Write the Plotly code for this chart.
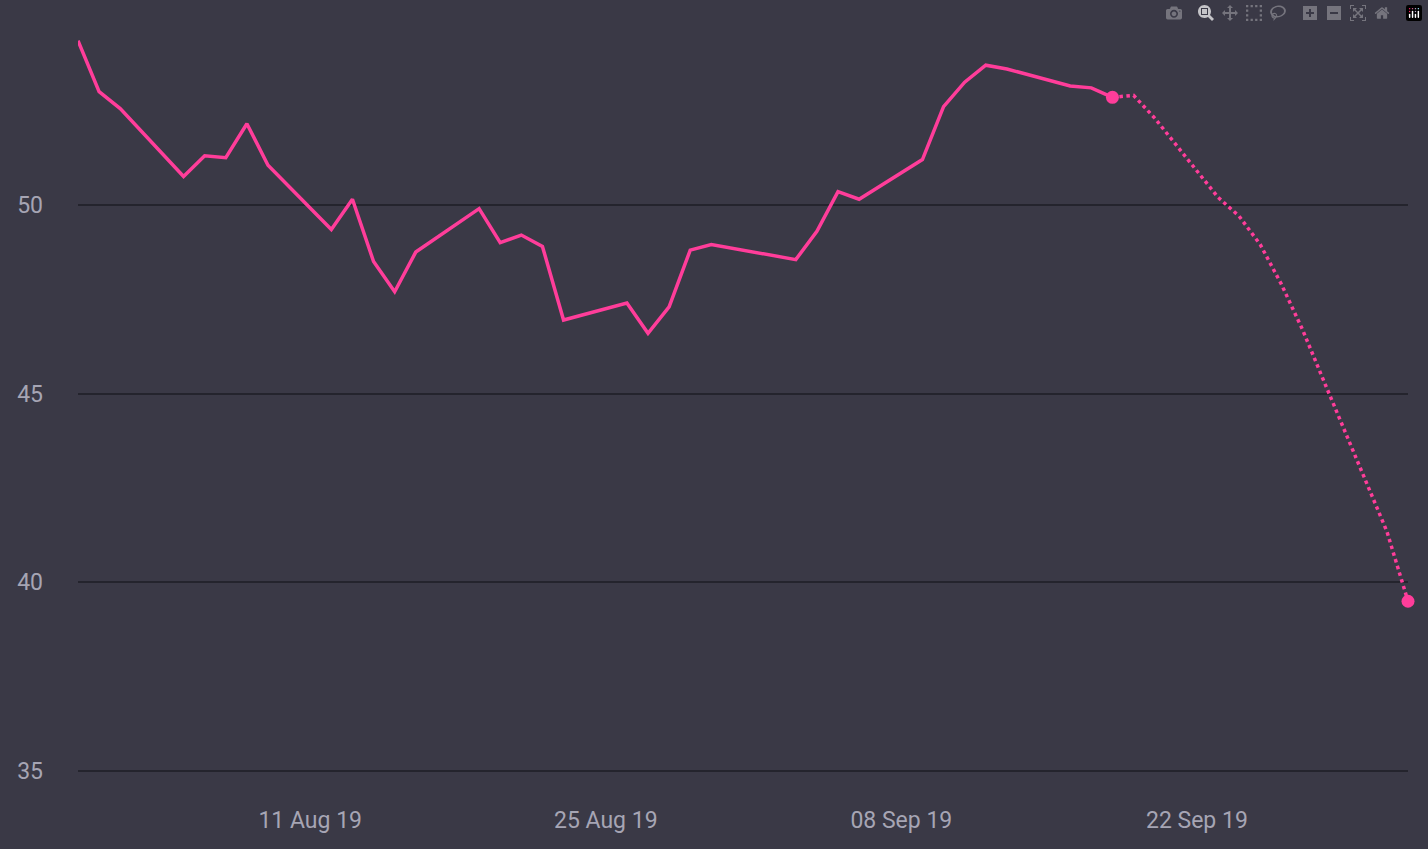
import plotly.graph_objects as go

dates_actual = ["2019-07-31", "2019-08-01", "2019-08-02", "2019-08-05", "2019-08-06", "2019-08-07",
                "2019-08-08", "2019-08-09", "2019-08-12", "2019-08-13", "2019-08-14", "2019-08-15",
                "2019-08-16", "2019-08-19", "2019-08-20", "2019-08-21", "2019-08-22", "2019-08-23",
                "2019-08-26", "2019-08-27", "2019-08-28", "2019-08-29", "2019-08-30", "2019-09-03",
                "2019-09-04", "2019-09-05", "2019-09-06", "2019-09-09", "2019-09-10", "2019-09-11",
                "2019-09-12", "2019-09-13", "2019-09-16", "2019-09-17", "2019-09-18"]
values_actual = [54.35, 53.0, 52.55, 50.75, 51.3, 51.25,
                 52.15, 51.05, 49.35, 50.15, 48.5, 47.7,
                 48.75, 49.9, 49.0, 49.2, 48.9, 46.95,
                 47.4, 46.6, 47.3, 48.8, 48.95, 48.55,
                 49.3, 50.35, 50.15, 51.2, 52.6, 53.25,
                 53.7, 53.6, 53.15, 53.1, 52.85]

dates_forecast = ["2019-09-18", "2019-09-19", "2019-09-20", "2019-09-21", "2019-09-22", "2019-09-23",
                  "2019-09-24", "2019-09-25", "2019-09-26", "2019-09-27", "2019-09-28", "2019-09-29",
                  "2019-09-30", "2019-10-01", "2019-10-02"]
values_forecast = [52.85, 52.9, 52.3, 51.6, 50.9, 50.2,
                   49.7, 48.95, 47.9, 46.7, 45.35, 44.0,
                   42.7, 41.35, 39.5]

pink = "#ff3d9a"

fig = go.Figure()
fig.add_trace(go.Scatter(x=dates_actual, y=values_actual, mode="lines",
                         line=dict(color=pink, width=3.5), hoverinfo="skip"))
fig.add_trace(go.Scatter(x=dates_forecast, y=values_forecast, mode="lines",
                         line=dict(color=pink, width=3.5, dash="dot"), hoverinfo="skip"))
fig.add_trace(go.Scatter(x=[dates_forecast[0], dates_forecast[-1]],
                         y=[values_forecast[0], values_forecast[-1]], mode="markers",
                         marker=dict(color=pink, size=13), cliponaxis=False, hoverinfo="skip"))

fig.update_layout(
    width=1428, height=849, showlegend=False,
    paper_bgcolor="#3a3946", plot_bgcolor="#3a3946",
    margin=dict(l=78, r=20, t=35, b=59),
    font=dict(family="Roboto", color="#a6a5b4", size=23),
    xaxis=dict(range=["2019-07-31", "2019-10-02"], showgrid=False, zeroline=False,
               tickvals=["2019-08-11", "2019-08-25", "2019-09-08", "2019-09-22"],
               ticktext=["11 Aug 19", "25 Aug 19", "08 Sep 19", "22 Sep 19"], ticklen=0,
               ticklabelstandoff=14),
    yaxis=dict(range=[34.5, 54.5], tickvals=[35, 40, 45, 50], gridcolor="#24242d",
               gridwidth=1.5, zeroline=False, ticklen=0, ticklabelstandoff=34),
)

fig.write_html("out.html", post_script="document.body.style.margin='0';document.body.style.background='#3a3946';")
